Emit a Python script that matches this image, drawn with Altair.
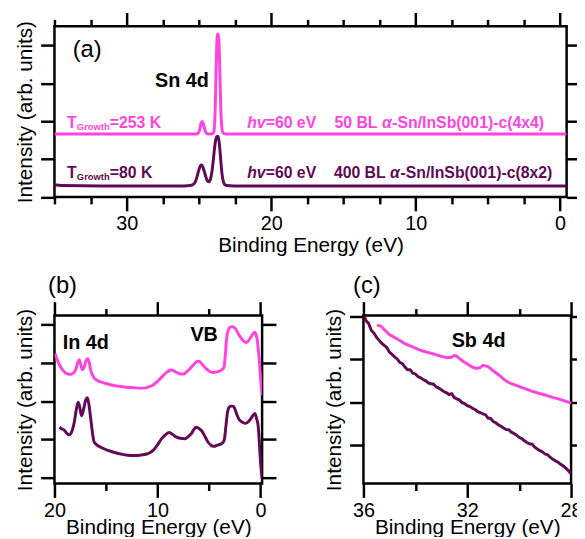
import altair as alt
import pandas as pd

PINK = "#FF44DD"
DARK = "#620A56"
FONT = "Liberation Sans"

# ---------------- panel (a) : Sn 4d ----------------
a_pink_e = [35.0, 30.0, 25.5, 25.2, 25.1, 25.0, 24.92, 24.85, 24.78, 24.71, 24.63, 24.55, 24.45, 24.33,
            24.2, 24.08, 24.0, 23.93, 23.87, 23.82, 23.77, 23.72, 23.68, 23.63, 23.58, 23.53, 23.48,
            23.42, 23.35, 23.25, 23.1, 20.0, 10.0, 0.0, -0.45]
a_pink_i = [1.66, 1.66, 1.66, 1.66, 1.67, 1.71, 1.82, 1.95, 1.99, 1.95, 1.83, 1.72, 1.67, 1.66,
            1.66, 1.67, 1.69, 1.85, 2.4, 3.2, 3.95, 4.27, 4.30, 4.18, 3.7, 2.95, 2.25,
            1.85, 1.70, 1.67, 1.66, 1.66, 1.66, 1.66, 1.66]
a_dark_e = [35.0, 34.5, 30.0, 26.0, 25.6, 25.4, 25.25, 25.12, 25.0, 24.9, 24.82, 24.74, 24.62, 24.5,
            24.4, 24.32, 24.22, 24.12, 24.02, 23.93, 23.85, 23.77, 23.70, 23.63, 23.55, 23.47, 23.39,
            23.3, 23.2, 23.05, 22.6, 15.0, 5.0, 0.0, -0.45]
a_dark_i = [0.32, 0.30, 0.29, 0.29, 0.30, 0.33, 0.40, 0.55, 0.72, 0.82, 0.84, 0.80, 0.66, 0.50,
            0.42, 0.40, 0.45, 0.62, 0.92, 1.25, 1.48, 1.59, 1.60, 1.52, 1.25, 0.88, 0.57,
            0.39, 0.32, 0.30, 0.29, 0.29, 0.29, 0.29, 0.29]

# ---------------- panel (b) : In 4d / VB ----------------
b_pink_e = [19.94, 19.52, 19.04, 18.7, 18.4, 18.1, 17.92, 17.75, 17.6, 17.45, 17.3, 17.1, 16.9, 16.75,
            16.6, 16.48, 16.3, 16.16, 15.9, 15.52, 15.0, 14.24, 13.5, 12.9, 12.32, 11.8, 11.36, 11.0,
            10.56, 10.15, 9.76, 9.4, 9.12, 8.85, 8.64, 8.3, 8.0, 7.7, 7.46, 7.15, 6.88, 6.5, 6.2,
            5.98, 5.6, 5.28, 4.96, 4.64, 4.3, 4.0, 3.75, 3.55, 3.42, 3.3, 3.15, 2.95, 2.75, 2.55,
            2.4, 2.2, 1.92, 1.65, 1.38, 1.15, 0.96, 0.75, 0.55, 0.42, 0.32, 0.2, 0.1, 0.0, -0.15]
b_pink_i = [3.24, 2.95, 2.76, 2.71, 2.70, 2.75, 2.84, 3.0, 3.08, 2.95, 2.82, 2.9, 3.08, 3.11,
            2.98, 2.80, 2.68, 2.61, 2.55, 2.50, 2.46, 2.41, 2.38, 2.36, 2.35, 2.34, 2.34, 2.36,
            2.40, 2.48, 2.58, 2.68, 2.75, 2.80, 2.81, 2.77, 2.73, 2.71, 2.71, 2.77, 2.84, 2.95, 3.03,
            3.04, 2.94, 2.85, 2.78, 2.75, 2.76, 2.78, 2.82, 2.88, 3.2, 3.62, 3.84, 3.93, 3.94, 3.92,
            3.88, 3.78, 3.66, 3.57, 3.53, 3.58, 3.66, 3.75, 3.80, 3.72, 3.59, 3.3, 3.0, 2.6, 2.15]
b_dark_e = [19.52, 19.3, 19.04, 18.8, 18.56, 18.3, 18.08, 17.9, 17.7, 17.55, 17.38, 17.2, 17.0, 16.8,
            16.65, 16.48, 16.3, 16.16, 15.9, 15.68, 15.3, 14.88, 14.4, 13.92, 13.4, 12.9, 12.32, 11.7,
            11.04, 10.7, 10.4, 10.0, 9.6, 9.2, 8.86, 8.5, 8.16, 7.8, 7.36, 7.0, 6.72, 6.45, 6.24,
            6.0, 5.76, 5.44, 5.12, 4.76, 4.48, 4.2, 3.9, 3.65, 3.5, 3.36, 3.2, 3.05, 2.88, 2.7,
            2.56, 2.3, 2.08, 1.75, 1.44, 1.1, 0.85, 0.55, 0.4, 0.23, 0.1, 0.0, -0.15]
b_dark_i = [1.32, 1.28, 1.24, 1.16, 1.12, 1.22, 1.45, 1.75, 1.97, 1.85, 1.62, 1.75, 2.0, 2.09,
            1.9, 1.54, 1.15, 0.94, 0.86, 0.82, 0.77, 0.72, 0.68, 0.64, 0.61, 0.59, 0.58, 0.59,
            0.62, 0.66, 0.72, 0.86, 1.02, 1.13, 1.18, 1.12, 1.06, 1.03, 1.02, 1.08, 1.15, 1.27, 1.32,
            1.29, 1.24, 1.10, 0.94, 0.84, 0.82, 0.85, 0.88, 0.92, 1.02, 1.35, 1.72, 1.84, 1.87, 1.87,
            1.84, 1.65, 1.52, 1.45, 1.42, 1.49, 1.58, 1.68, 1.56, 1.35, 0.85, 0.4, -0.03]

# ---------------- panel (c) : Sb 4d ----------------
c_pink_e = [35.48, 35.33, 35.2, 35.1, 35.0, 34.82, 34.6, 34.44, 34.25, 34.06, 33.87, 33.68, 33.5, 33.3,
            33.1, 32.92, 32.75, 32.61, 32.5, 32.42, 32.3, 32.15, 31.97, 31.8, 31.65, 31.5, 31.4, 31.2,
            31.09, 30.95, 30.77, 30.6, 30.46, 30.25, 30.01, 29.75, 29.51, 29.25, 29.0, 28.75, 28.49,
            28.25, 28.05, 28.0]
c_pink_i = [3.80, 3.78, 3.70, 3.64, 3.58, 3.52, 3.44, 3.38, 3.33, 3.28, 3.23, 3.19, 3.16, 3.13,
            3.09, 3.06, 3.04, 3.05, 3.09, 3.08, 3.02, 2.95, 2.88, 2.82, 2.79, 2.81, 2.86, 2.83,
            2.78, 2.71, 2.63, 2.54, 2.48, 2.42, 2.37, 2.31, 2.26, 2.21, 2.17, 2.12, 2.08,
            2.03, 1.99, 1.98]
c_dark_e = [35.96, 35.9, 35.8, 35.7, 35.6, 35.5, 35.4, 35.3, 35.2, 35.1, 35.0, 34.9, 34.8, 34.7, 34.6,
            34.5, 34.4, 34.3, 34.2, 34.1, 34.0, 33.9, 33.8, 33.7, 33.6, 33.5, 33.4, 33.3, 33.2, 33.1,
            33.0, 32.9, 32.8, 32.7, 32.6, 32.5, 32.4, 32.3, 32.2, 32.1, 32.0, 31.9, 31.8, 31.7, 31.6,
            31.5, 31.4, 31.3, 31.2, 31.1, 31.0, 30.9, 30.8, 30.7, 30.6, 30.5, 30.4, 30.3, 30.2, 30.1,
            30.0, 29.9, 29.8, 29.7, 29.6, 29.5, 29.4, 29.3, 29.2, 29.1, 29.0, 28.9, 28.8, 28.7, 28.6,
            28.5, 28.4, 28.3, 28.2, 28.1, 28.0]
c_dark_i = [4.0, 3.9, 3.84, 3.68, 3.62, 3.52, 3.45, 3.38, 3.33, 3.28, 3.17, 3.12, 3.06, 3.01, 2.93,
            2.90, 2.82, 2.76, 2.76, 2.68, 2.66, 2.60, 2.57, 2.53, 2.50, 2.45, 2.43, 2.42, 2.36, 2.33,
            2.29, 2.25, 2.22, 2.18, 2.20, 2.11, 2.08, 2.05, 1.99, 1.97, 1.92, 1.90, 1.86, 1.83, 1.78,
            1.76, 1.73, 1.71, 1.63, 1.62, 1.55, 1.52, 1.47, 1.44, 1.40, 1.36, 1.36, 1.30, 1.27, 1.23,
            1.18, 1.15, 1.10, 1.06, 1.03, 1.02, 0.95, 0.91, 0.87, 0.84, 0.79, 0.77, 0.71, 0.67, 0.63,
            0.60, 0.55, 0.51, 0.46, 0.40, 0.33]

# ---------------- annotations ----------------
a_bold_text = ["T", "=253 K", "=60 eV", "50 BL", "-Sn/InSb(001)-c(4x4)",
               "T", "=80 K", "=60 eV", "400 BL", "-Sn/InSb(001)-c(8x2)"]
a_bold_e = [34.13, 31.17, 20.38, 15.62, 11.62, 34.13, 31.17, 20.38, 15.66, 11.05]
a_bold_i = [1.81, 1.81, 1.81, 1.81, 1.81, 0.49, 0.49, 0.49, 0.49, 0.49]
a_bold_c = [PINK, PINK, PINK, PINK, PINK, DARK, DARK, DARK, DARK, DARK]
a_ital_text = ["hv", "α", "hv", "α"]
a_ital_e = [21.66, 12.33, 21.66, 11.77]
a_ital_i = [1.81, 1.81, 0.49, 0.49]
a_ital_c = [PINK, PINK, DARK, DARK]
a_sub_text = ["Growth", "Growth"]
a_sub_e = [33.45, 33.45]
a_sub_i = [1.76, 0.44]
a_sub_c = [PINK, DARK]

a_label = ["(a)"]; a_label_e = [33.74]; a_label_i = [3.70]
b_label = ["(b)"]; b_label_e = [20.63]; b_label_i = [4.82]
c_label = ["(c)"]; c_label_e = [36.40]; c_label_i = [4.56]
a_head = ["Sn 4d"]; a_head_e = [28.04]; a_head_i = [2.89]
b_head = ["In 4d", "VB"]; b_head_e = [19.19, 6.81]; b_head_i = [3.35, 3.57]
c_head = ["Sb 4d"]; c_head_e = [32.6]; c_head_i = [3.30]

a_xticks = [35, 32.5, 30, 27.5, 25, 22.5, 20, 17.5, 15, 12.5, 10, 7.5, 5, 2.5, 0]
b_xticks = [20, 15, 10, 5, 0]
c_xticks = [36, 34, 32, 30, 28]
yticks = [0, 1, 2, 3, 4]

XTITLE = "Binding Energy (eV)"
YTITLE = "Intensity (arb. units)"


def spectra(pe, pi, de, di):
    rows = []
    for k, (e, i) in enumerate(zip(pe, pi)):
        rows.append({"E": e, "I": i, "s": "pink", "k": k})
    for k, (e, i) in enumerate(zip(de, di)):
        rows.append({"E": e, "I": i, "s": "dark", "k": k})
    return pd.DataFrame(rows)


def tick_size(test):
    return {"condition": {"test": test, "value": 14}, "value": 7}


def panel(df, xdom, ydom, xticks, major, texts, w, h, xtitle_pad, interp):
    xs = alt.Scale(domain=xdom, nice=False, zero=False)
    ys = alt.Scale(domain=ydom, nice=False, zero=False)
    bottom = alt.Axis(orient="bottom", values=xticks, tickSize=tick_size(major),
                      labelExpr="(" + major + ") ? datum.label : ''",
                      title=XTITLE, titlePadding=xtitle_pad)
    top = alt.Axis(orient="top", values=xticks, tickSize=tick_size(major),
                   labels=False, title=None)
    left = alt.Axis(orient="left", values=yticks, tickSize=14, labels=False,
                    title=YTITLE, titlePadding=4)
    right = alt.Axis(orient="right", values=yticks, tickSize=14, labels=False, title=None)
    lines = alt.Chart(df).mark_line(strokeWidth=3, interpolate=interp, clip=True).encode(
        x=alt.X("E:Q", scale=xs, axis=bottom),
        y=alt.Y("I:Q", scale=ys, axis=left),
        color=alt.Color("s:N", scale=alt.Scale(domain=["pink", "dark"], range=[PINK, DARK]), legend=None),
        detail="s:N",
        order=alt.Order("k:Q"),
    )
    frame = alt.Chart(df).mark_point(opacity=0, size=1, clip=True).encode(
        x=alt.X("E:Q", scale=xs, axis=top),
        y=alt.Y("I:Q", scale=ys, axis=right),
    )
    layers = [lines, frame]
    for tdf_, style in texts:
        enc = dict(
            x=alt.X("E:Q", scale=xs, axis=None),
            y=alt.Y("I:Q", scale=ys, axis=None),
            text="t:N",
            color=alt.Color("c:N", scale=None),
        )
        layers.append(alt.Chart(tdf_).mark_text(align="left", baseline="alphabetic", font=FONT, **style).encode(**enc))
    ch = alt.layer(*layers).resolve_axis(x="independent", y="independent")
    return ch.properties(width=w, height=h)


def tdf(t, e, i, c=None):
    if c is None:
        c = ["black"] * len(t)
    return pd.DataFrame({"t": t, "E": e, "I": i, "c": c})


df_a = spectra(a_pink_e, a_pink_i, a_dark_e, a_dark_i)
df_b = spectra(b_pink_e, b_pink_i, b_dark_e, b_dark_i)
df_c = spectra(c_pink_e, c_pink_i, c_dark_e, c_dark_i)

texts_a = [
    (tdf(a_label, a_label_e, a_label_i), dict(fontSize=24)),
    (tdf(a_head, a_head_e, a_head_i), dict(fontSize=20, fontWeight="bold")),
    (tdf(a_bold_text, a_bold_e, a_bold_i, a_bold_c), dict(fontSize=16, fontWeight="bold")),
    (tdf(a_ital_text, a_ital_e, a_ital_i, a_ital_c), dict(fontSize=16, fontWeight="bold", fontStyle="italic")),
    (tdf(a_sub_text, a_sub_e, a_sub_i, a_sub_c), dict(fontSize=9.5, fontWeight="bold")),
]
texts_b = [(tdf(b_label, b_label_e, b_label_i), dict(fontSize=24)),
           (tdf(b_head, b_head_e, b_head_i), dict(fontSize=20, fontWeight="bold"))]
texts_c = [(tdf(c_label, c_label_e, c_label_i), dict(fontSize=24)),
           (tdf(c_head, c_head_e, c_head_i), dict(fontSize=20, fontWeight="bold"))]

pa = panel(df_a, [35, -0.45], [0, 4.5], a_xticks, "datum.value % 10 === 0", texts_a, 518, 172.6, 1, "monotone")
pb = panel(df_b, [20, -0.15], [-0.152, 4.235], b_xticks, "datum.value % 10 === 0", texts_b, 210, 170, -3.5, "monotone")
pc = panel(df_c, [36, 28], [0.10, 4.025], c_xticks, "(36 - datum.value) % 4 === 0", texts_c, 210, 170, -3.5, "linear")

chart = alt.vconcat(pa, alt.hconcat(pb, pc, spacing=43.5), spacing=15.5).properties(
    padding={"left": 5, "top": -1.5, "right": -10.5, "bottom": -5.5},
    background="white",
).configure(font=FONT).configure_axis(
    domain=False, grid=False, tickColor="black", tickWidth=2.5,
    labelFont=FONT, labelFontSize=20, labelColor="black", labelPadding=3,
    labelFlush=False, labelOverlap=False,
    titleFont=FONT, titleFontSize=21, titleFontWeight="normal", titleColor="black",
).configure_view(stroke="black", strokeWidth=2.5)

chart.save("out.html", embed_options={"renderer": "svg", "actions": False})
